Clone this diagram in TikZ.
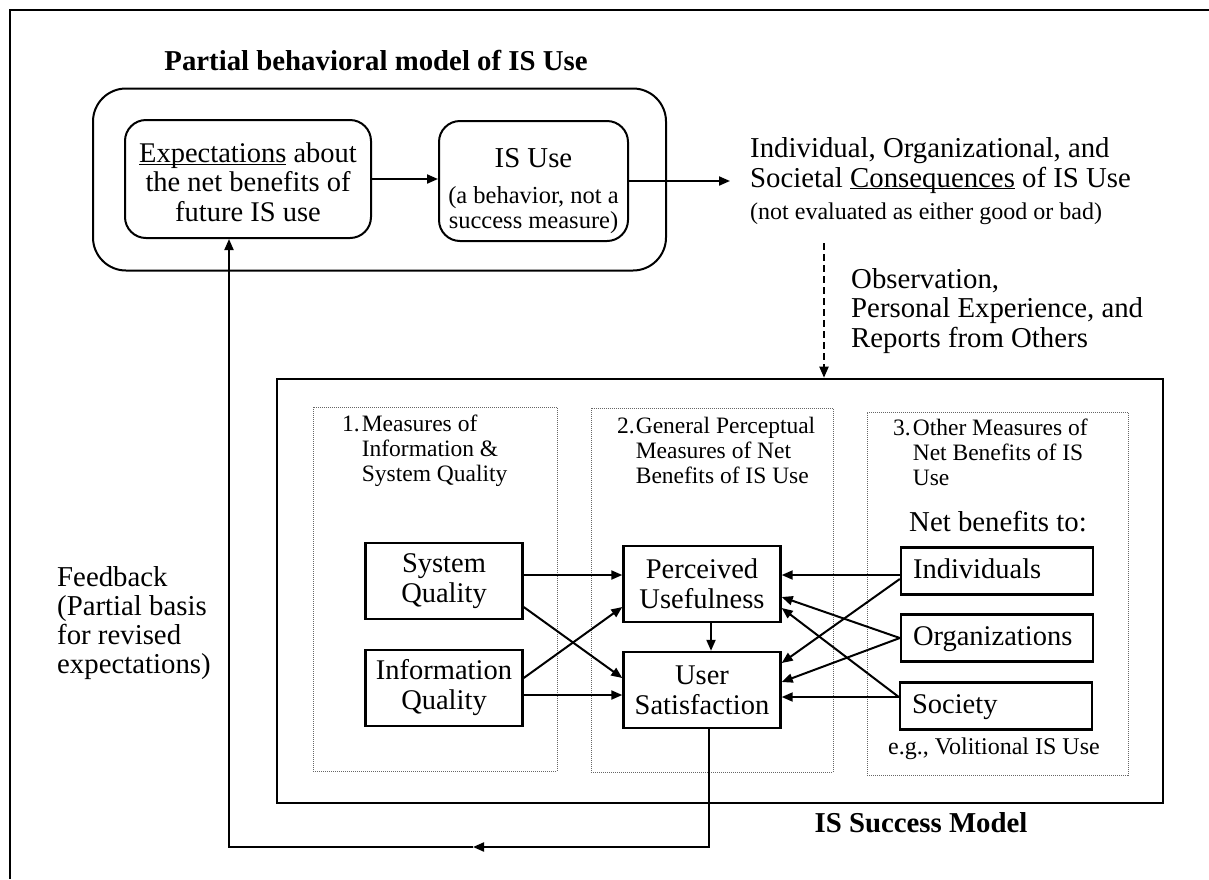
\documentclass[tikz,border=0pt]{standalone}
\usepackage{fontspec}
\setmainfont{Liberation Serif}
\usetikzlibrary{arrows.meta,calc}

% type sizes used in the figure
\newcommand{\txtmain}{\fontsize{28.8}{30}\selectfont}
\newcommand{\txtexp}{\fontsize{28.5}{29.5}\selectfont}
\newcommand{\txtbox}{\fontsize{28.5}{30}\selectfont}
\newcommand{\txtsmall}{\fontsize{24.5}{25}\selectfont}
\newcommand{\txtnote}{\fontsize{24}{25}\selectfont}
\newcommand{\txthead}{\fontsize{23.5}{25}\selectfont}
% underline set just below the baseline, crossing the descenders
\newcommand{\ulword}[1]{\underline{\raisebox{0pt}[\height][0pt]{#1}}}

\begin{document}
\begin{tikzpicture}[x=1pt,y=-1pt,
  every node/.style={inner sep=0pt},
  frameline/.style={line width=2pt},
  groupbox/.style={draw, line width=2pt, rounded corners=33pt},
  roundbox/.style={draw, line width=2pt, rounded corners=21pt, align=center},
  sqbox/.style={draw, line width=2.4pt, minimum width=157pt, minimum height=76pt,
    align=center, font=\txtbox},
  benbox/.style={draw, line width=2.4pt, minimum width=192pt, minimum height=47pt,
    inner xsep=12pt, text width=168pt, text height=20pt, text depth=6pt,
    align=left, font=\txtbox},
  panel/.style={draw=black!60, densely dotted, line width=1pt},
  arr/.style={line width=2pt, -{Triangle[length=11pt,width=9pt]}},
  header/.style={anchor=north west, font=\txthead},
  plain/.style={anchor=north west, align=left, font=\txtmain}
]
\useasboundingbox (0,0) rectangle (1209,879);

% page frame (top and left rules)
\coordinate (frTL) at (10,10);
\coordinate (frTR) at (1209,10);
\coordinate (frBL) at (10,879);
\draw[frameline] (frTR) -- (frTL) -- (frBL);

% partial behavioral model
\node (pbmTitle) [anchor=base, font=\bfseries\txtmain] at (376,70)
  {Partial behavioral model of IS Use};
\node (pbm) [groupbox, minimum width=573pt, minimum height=182pt] at (379.5,179.5) {};
\node (exp) [roundbox, font=\txtexp, minimum width=246pt, minimum height=118pt] at (248,179)
  {\rule{0pt}{26pt}\ulword{Expectations} about\\the net benefits of\\future IS use};
\node (isu) [roundbox, font=\txtsmall, minimum width=189pt, minimum height=120pt] at (533.5,181)
  {\rule{0pt}{40pt}{\txtmain IS Use}\\[11pt](a behavior, not a\\success measure)};
\draw[arr] (exp.east) -- (exp.east -| isu.west);

% consequences
\node (cons) [plain] at (750,137)
  {Individual, Organizational, and\\Societal \ulword{Consequences} of IS Use\\[2pt]{\txtnote (not evaluated as either good or bad)}};
\draw[arr] (isu.east) -- ($(isu.east -| cons.west)+(-20,0)$);

% IS success model
\node (succ) [draw, line width=2.6pt, minimum width=886pt, minimum height=424pt] at (720,591) {};
\node (succLabel) [anchor=base, font=\bfseries\txtmain] at (921,832) {IS Success Model};

% observation feeding into the success model
\coordinate (obsTop) at (824,243);
\draw[arr, dash pattern=on 7pt off 4pt] (obsTop) -- (obsTop |- succ.north);
\node (obs) [plain, font=\fontsize{28.8}{29.5}\selectfont] at (851,268)
  {Observation,\\Personal Experience, and\\Reports from Others};

% three measurement panels
\node (p1) [panel, minimum width=244pt, minimum height=364pt] at (435,589) {};
\node (p2) [panel, minimum width=242pt, minimum height=364pt] at (712,590) {};
\node (p3) [panel, minimum width=261pt, minimum height=363pt] at (997.5,593.5) {};

\node (h1) [header] at (342,413.5)
  {\begin{tabular}{@{}l@{\hspace{2pt}}l@{}}1.&Measures of\\&Information \&\\&System Quality\end{tabular}};
\node (h2) [header] at (617,415.5)
  {\begin{tabular}{@{}l@{\hspace{1pt}}l@{}}2.&General Perceptual\\&Measures of Net\\&Benefits of IS Use\end{tabular}};
\node (h3) [header] at (893,417.5)
  {\begin{tabular}{@{}l@{\hspace{2pt}}l@{}}3.&Other Measures of\\&Net Benefits of IS\\&Use\end{tabular}};

% measures
\node (sq) [sqbox] at (444,581) {System\\Quality};
\node (iq) [sqbox] at (444,688) {Information\\Quality};
\node (pu) [sqbox] at (702,584) {Perceived\\Usefulness};
\node (us) [sqbox] at (702,690) {User\\Satisfaction};

\node (netb) [anchor=base west, font=\txtmain] at (909,531) {Net benefits to:};
\node (ind) [benbox] at (997,571) {Individuals};
\node (org) [benbox] at (997,638) {Organizations};
\node (soc) [benbox] at (996,706) {Society};
\node (eg) [anchor=base west, font=\txtnote] at (888,754) {e.g., Volitional IS Use};

% links between measures
\draw[arr] ($(sq.east)+(0,-6)$) -- ($(pu.west)+(0,-9)$);
\draw[arr] ($(sq.east)+(0,26)$) -- ($(us.west)+(0,-12)$);
\draw[arr] ($(iq.east)+(0,-10)$) -- ($(pu.west)+(0,23)$);
\draw[arr] ($(iq.east)+(0,7)$) -- ($(us.west)+(0,5)$);
\draw[arr] ($(pu.south)+(9,0)$) -- ($(us.north)+(9,0)$);
\draw[arr] ($(ind.west)+(0,4)$) -- ($(pu.east)+(0,-9)$);
\draw[arr] ($(ind.west)+(0,8)$) -- ($(us.east)+(0,-27)$);
\draw[arr] (org.west) -- ($(pu.east)+(0,13)$);
\draw[arr] (org.west) -- ($(us.east)+(0,-8)$);
\draw[arr] ($(soc.west)+(0,-9)$) -- ($(pu.east)+(0,24)$);
\draw[arr] ($(soc.west)+(0,-9)$) -- ($(us.east)+(0,7)$);

% feedback loop
\node (fbtext) [plain, font=\fontsize{28.8}{29}\selectfont] at (57,566)
  {Feedback\\(Partial basis\\for revised\\expectations)};
\coordinate (fbMid) at (473,847);
\coordinate (fbCorner) at (229,847);
\draw[arr] ($(us.south)+(7,0)$) |- (fbMid);
\draw[arr] (fbMid) -- (fbCorner) -- (fbCorner |- exp.south);
\end{tikzpicture}
\end{document}
